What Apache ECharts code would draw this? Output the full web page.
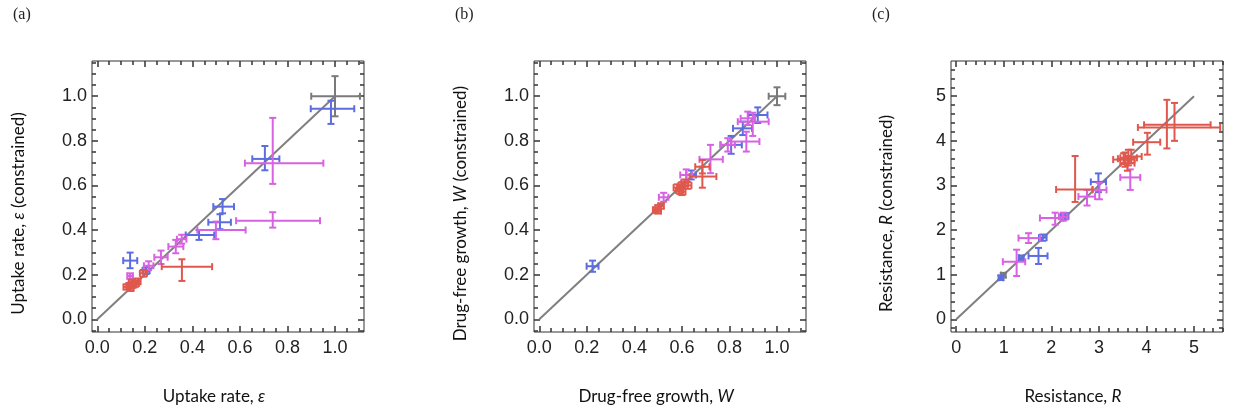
<!DOCTYPE html>
<html><head><meta charset="utf-8">
<script src="https://cdn.jsdelivr.net/npm/echarts@6/dist/echarts.min.js"></script>
<style>html,body{margin:0;padding:0;background:#fff}#chart{width:1235px;height:413px}</style>
</head><body><div id="chart"></div>
<script>
// Each point: [x, y, xLow, xHigh, yLow, yHigh]
// ---- Panel (a): uptake rate
const aGray = [[1.0, 1.0, 0.90, 1.105, 0.91, 1.09]];
const aBlue = [
  [0.983, 0.944, 0.898, 1.081, 0.876, 0.980],
  [0.705, 0.719, 0.652, 0.766, 0.668, 0.777],
  [0.527, 0.505, 0.488, 0.575, 0.475, 0.539],
  [0.516, 0.435, 0.467, 0.562, 0.404, 0.471],
  [0.428, 0.378, 0.372, 0.492, 0.356, 0.400],
  [0.205, 0.218, 0.190, 0.220, 0.203, 0.233],
  [0.138, 0.263, 0.109, 0.168, 0.229, 0.299]
];
const aMagenta = [
  [0.738, 0.700, 0.621, 0.951, 0.607, 0.903],
  [0.738, 0.442, 0.584, 0.937, 0.411, 0.480],
  [0.499, 0.400, 0.421, 0.624, 0.359, 0.438],
  [0.355, 0.359, 0.335, 0.375, 0.339, 0.379],
  [0.330, 0.326, 0.299, 0.362, 0.296, 0.356],
  [0.268, 0.278, 0.240, 0.296, 0.248, 0.308],
  [0.216, 0.240, 0.196, 0.236, 0.220, 0.260],
  [0.138, 0.194, 0.126, 0.150, 0.182, 0.206]
];
const aRed = [
  [0.356, 0.236, 0.271, 0.483, 0.172, 0.269],
  [0.194, 0.206, 0.179, 0.209, 0.191, 0.221],
  [0.125, 0.145, 0.110, 0.140, 0.133, 0.157],
  [0.140, 0.140, 0.127, 0.153, 0.127, 0.153],
  [0.150, 0.155, 0.135, 0.165, 0.141, 0.169],
  [0.160, 0.160, 0.145, 0.175, 0.146, 0.174],
  [0.170, 0.170, 0.158, 0.182, 0.157, 0.183],
  [0.145, 0.165, 0.132, 0.158, 0.152, 0.178],
  [0.135, 0.150, 0.122, 0.148, 0.137, 0.163]
];
// ---- Panel (b): drug-free growth
const bGray = [[1.0, 1.0, 0.965, 1.035, 0.96, 1.04]];
const bBlue = [
  [0.919, 0.916, 0.880, 0.960, 0.880, 0.950],
  [0.856, 0.856, 0.815, 0.895, 0.826, 0.886],
  [0.807, 0.782, 0.762, 0.852, 0.742, 0.822],
  [0.639, 0.647, 0.619, 0.659, 0.627, 0.667],
  [0.224, 0.238, 0.199, 0.249, 0.213, 0.263]
];
const bMagenta = [
  [0.898, 0.886, 0.835, 0.965, 0.822, 0.926],
  [0.877, 0.901, 0.847, 0.907, 0.871, 0.931],
  [0.871, 0.797, 0.807, 0.926, 0.752, 0.841],
  [0.793, 0.782, 0.763, 0.823, 0.752, 0.812],
  [0.720, 0.717, 0.674, 0.772, 0.655, 0.782],
  [0.618, 0.647, 0.593, 0.643, 0.622, 0.672],
  [0.523, 0.547, 0.503, 0.543, 0.527, 0.567]
];
const bRed = [
  [0.686, 0.684, 0.656, 0.716, 0.654, 0.714],
  [0.686, 0.640, 0.632, 0.745, 0.590, 0.684],
  [0.580, 0.590, 0.565, 0.595, 0.575, 0.605],
  [0.600, 0.600, 0.585, 0.615, 0.585, 0.615],
  [0.612, 0.612, 0.597, 0.627, 0.597, 0.627],
  [0.590, 0.578, 0.575, 0.605, 0.563, 0.593],
  [0.625, 0.600, 0.610, 0.640, 0.585, 0.615],
  [0.600, 0.572, 0.585, 0.615, 0.557, 0.587],
  [0.490, 0.490, 0.478, 0.502, 0.478, 0.502],
  [0.500, 0.500, 0.488, 0.512, 0.488, 0.512],
  [0.512, 0.508, 0.500, 0.524, 0.496, 0.520],
  [0.500, 0.486, 0.488, 0.512, 0.474, 0.498]
];
// ---- Panel (c): resistance
const cGray = [[0.99, 0.99, 0.94, 1.04, 0.94, 1.04]];
const cBlue = [
  [2.99, 3.08, 2.83, 3.15, 2.85, 3.27],
  [2.29, 2.31, 2.20, 2.36, 2.24, 2.38],
  [1.82, 1.83, 1.74, 1.90, 1.76, 1.90],
  [1.73, 1.42, 1.52, 1.92, 1.24, 1.60],
  [1.37, 1.38, 1.32, 1.42, 1.33, 1.43],
  [0.94, 0.93, 0.89, 0.99, 0.88, 0.98]
];
const cMagenta = [
  [3.66, 3.18, 3.45, 3.87, 2.90, 3.36],
  [3.01, 2.90, 2.86, 3.16, 2.69, 3.06],
  [2.75, 2.75, 2.57, 2.92, 2.55, 2.90],
  [2.08, 2.27, 1.76, 2.25, 2.12, 2.39],
  [2.25, 2.30, 2.16, 2.34, 2.21, 2.39],
  [1.52, 1.82, 1.31, 1.76, 1.71, 1.93],
  [1.27, 1.29, 0.98, 1.45, 0.97, 1.56]
];
const cRed = [
  [4.43, 4.36, 3.95, 5.35, 3.83, 4.92],
  [4.59, 4.30, 3.82, 5.55, 4.00, 4.85],
  [4.02, 3.97, 3.72, 4.29, 3.69, 4.18],
  [3.62, 3.62, 3.45, 3.80, 3.45, 3.80],
  [3.55, 3.58, 3.30, 3.75, 3.42, 3.74],
  [3.68, 3.65, 3.55, 3.90, 3.50, 3.80],
  [3.60, 3.50, 3.45, 3.75, 3.33, 3.66],
  [3.52, 3.60, 3.40, 3.65, 3.48, 3.72],
  [2.50, 2.91, 2.10, 2.87, 2.63, 3.66]
];
// identity lines
const diagAB = [[0, 0], [1, 1]];
const diagC = [[0, 0], [5, 5]];
// tick values and labels
const ticksAB = [0, 0.2, 0.4, 0.6, 0.8, 1.0];
const tickLabelsAB = ['0.0', '0.2', '0.4', '0.6', '0.8', '1.0'];
const ticksC = [0, 1, 2, 3, 4, 5];
const tickLabelsC = ['0', '1', '2', '3', '4', '5'];
const panelLabels = ['(a)', '(b)', '(c)'];
const xTitles = ['Uptake rate, {i|ε}', 'Drug-free growth, {i|W}', 'Resistance, {i|R}'];
const yTitles = ['Uptake rate, {i|ε} (constrained)', 'Drug-free growth, {i|W} (constrained)', 'Resistance, {i|R} (constrained)'];

const COLORS = { gray: '#7a7a7a', blue: '#5b6de0', magenta: '#d762e2', red: '#e0584d' };
const FRAME = '#333333';

const panels = [
  { left: 92, xr: [-0.0223, 1.122], yr: [-0.057, 1.158], ticks: ticksAB, labels: tickLabelsAB, minor: 0.05,
    diag: diagAB, sets: [aGray, aBlue, aMagenta, aRed], yGap: 65, labelX: 13 },
  { left: 534, xr: [-0.0223, 1.122], yr: [-0.057, 1.158], ticks: ticksAB, labels: tickLabelsAB, minor: 0.05,
    diag: diagAB, sets: [bGray, bBlue, bMagenta, bRed], yGap: 65, labelX: 455 },
  { left: 951, xr: [-0.11, 5.61], yr: [-0.285, 5.79], ticks: ticksC, labels: tickLabelsC, minor: 0.2,
    diag: diagC, sets: [cGray, cBlue, cMagenta, cRed], yGap: 56, labelX: 872 }
];

function minorValues(range, step, majors) {
  const out = [];
  const start = Math.ceil(range[0] / step - 1e-9);
  const end = Math.floor(range[1] / step + 1e-9);
  for (let k = start; k <= end; k++) {
    const v = +(k * step).toFixed(6);
    if (!majors.some(m => Math.abs(m - v) < 1e-6)) out.push(v);
  }
  return out;
}

function renderErr(params, api) {
  const x = api.value(0), y = api.value(1);
  const p0 = api.coord([api.value(2), y]), p1 = api.coord([api.value(3), y]);
  const q0 = api.coord([x, api.value(4)]), q1 = api.coord([x, api.value(5)]);
  const color = api.visual('color');
  const cap = 3.5;
  const st = { stroke: color, lineWidth: 2 };
  const L = (x1, y1, x2, y2) => ({ type: 'line', shape: { x1, y1, x2, y2 }, style: st });
  return { type: 'group', children: [
    L(p0[0], p0[1], p1[0], p1[1]),
    L(q0[0], q0[1], q1[0], q1[1]),
    L(p0[0], p0[1] - cap, p0[0], p0[1] + cap),
    L(p1[0], p1[1] - cap, p1[0], p1[1] + cap),
    L(q0[0] - cap, q0[1], q0[0] + cap, q0[1]),
    L(q1[0] - cap, q1[1], q1[0] + cap, q1[1])
  ] };
}

const grids = [], xAxes = [], yAxes = [], series = [], titles = [];
const richI = { i: { fontFamily: 'Lato', fontSize: 17, fontStyle: 'italic', color: '#111' } };

panels.forEach((P, pi) => {
  const gMajor = grids.length;
  grids.push({ left: P.left, top: 61, width: 272, height: 271, show: true,
    borderColor: FRAME, borderWidth: 1 });
  const gMinor = grids.length;
  grids.push({ left: P.left, top: 61, width: 272, height: 271, show: false });
  const fmt = v => { const i = P.ticks.findIndex(t => Math.abs(t - v) < 1e-6); return i >= 0 ? P.labels[i] : ''; };
  const mk = (gi, range, pos, major, labels, extra) => Object.assign({
    type: 'value', gridIndex: gi, position: pos, min: range[0], max: range[1],
    axisLine: { show: false, onZero: false },
    splitLine: { show: false },
    axisTick: { show: true, inside: true, length: major ? 6 : 4,
      customValues: major ? P.ticks : minorValues(range, P.minor, P.ticks),
      lineStyle: { color: FRAME, width: 1.5 } },
    axisLabel: labels ? { show: true, customValues: P.ticks, formatter: fmt,
      fontFamily: 'Liberation Sans', fontSize: 18, color: '#222', margin: pos === 'bottom' ? 7 : 5 } : { show: false }
  }, extra || {});
  const xBase = xAxes.length, yBase = yAxes.length;
  xAxes.push(mk(gMajor, P.xr, 'bottom', true, true, {
    name: xTitles[pi], nameLocation: 'middle', nameGap: 56,
    nameTextStyle: { fontFamily: 'Lato', fontSize: 17, color: '#111', padding: [0, 28, 0, 0], rich: richI }
  }));
  xAxes.push(mk(gMajor, P.xr, 'top', true, false));
  xAxes.push(mk(gMinor, P.xr, 'bottom', false, false));
  xAxes.push(mk(gMinor, P.xr, 'top', false, false));
  yAxes.push(mk(gMajor, P.yr, 'left', true, true, {
    name: yTitles[pi], nameLocation: 'middle', nameGap: P.yGap,
    nameTextStyle: { fontFamily: 'Lato', fontSize: 17, color: '#111', padding: [0, 34, 0, 0], rich: richI }
  }));
  yAxes.push(mk(gMajor, P.yr, 'right', true, false));
  yAxes.push(mk(gMinor, P.yr, 'left', false, false));
  yAxes.push(mk(gMinor, P.yr, 'right', false, false));

  series.push({ type: 'line', xAxisIndex: xBase, yAxisIndex: yBase, data: P.diag, symbol: 'none',
    silent: true, z: 1, lineStyle: { color: '#808080', width: 2 } });
  const cols = [COLORS.gray, COLORS.blue, COLORS.magenta, COLORS.red];
  P.sets.forEach((set, si) => {
    series.push({ type: 'custom', xAxisIndex: xBase, yAxisIndex: yBase, data: set, z: 2 + si,
      clip: true, itemStyle: { color: cols[si] }, encode: { x: 0, y: 1 },
      renderItem: renderErr });
  });
  titles.push({ text: panelLabels[pi], left: P.labelX, top: 7, padding: 0,
    textStyle: { fontFamily: 'Liberation Serif', fontSize: 16, fontWeight: 'normal', color: '#222' } });
});

const chart = echarts.init(document.getElementById('chart'), null, { renderer: 'canvas' });
chart.setOption({
  animation: false,
  backgroundColor: '#ffffff',
  title: titles,
  grid: grids,
  xAxis: xAxes,
  yAxis: yAxes,
  series: series
});
</script></body></html>
